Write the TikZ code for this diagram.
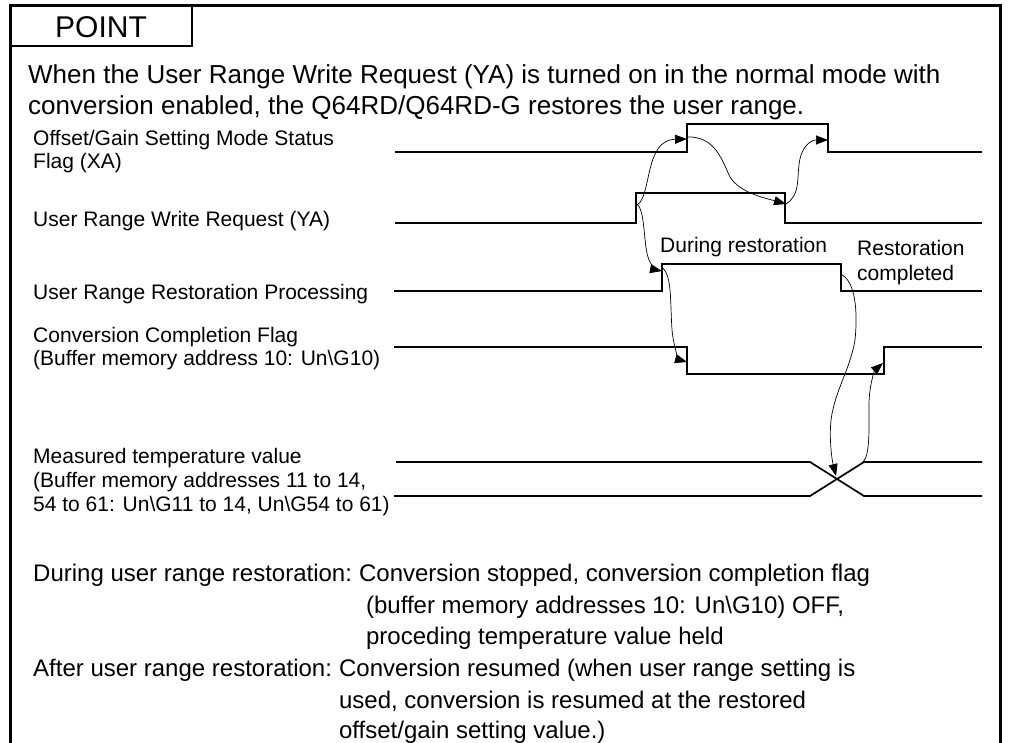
\documentclass[tikz,border=0pt]{standalone}
\usepackage{fontspec}
\setmainfont{Liberation Sans}
\usetikzlibrary{arrows.meta,calc}
\begin{document}
\begin{tikzpicture}[x=1pt,y=-1pt,
  frame/.style={line width=3pt},
  wave/.style={line width=1.7pt, line join=miter},
  cause/.style={line width=0.7pt, -{Triangle[length=12pt,width=9pt]}},
  para/.style={anchor=base west, inner sep=0pt, font=\fontsize{26}{31}\selectfont},
  sig/.style={anchor=base west, inner sep=0pt, font=\fontsize{21}{25}\selectfont},
  note/.style={anchor=base west, inner sep=0pt, font=\fontsize{24}{29}\selectfont}]
\useasboundingbox (0,0) rectangle (1009,743);
\fill[white] (0,0) rectangle (1009,743);

% outer frame (open at the bottom) and title tab
\draw[frame] (10,743) -- (10,6) -- (1000,6) -- (1000,743);
\draw[line width=2pt] (10,46) -- (192,46) -- (192,6);
\node[inner sep=0pt, font=\fontsize{30}{36}\selectfont] (title) at (101,27) {POINT};

% introduction
\node[para] (p1) at (28,84) {When the User Range Write Request (YA) is turned on in the normal mode with};
\node[para] (p2) at (28,115) {conversion enabled, the Q64RD/Q64RD-G restores the user range.};

% signal names
\node[sig] (l1a) at (33,145.5) {Offset/Gain Setting Mode Status};
\node[sig] (l1b) at (33,168.5) {Flag (XA)};
\node[sig] (l2)  at (33,226.5) {User Range Write Request (YA)};
\node[sig] (l3)  at (33,299.5) {User Range Restoration Processing};
\node[sig] (l4a) at (33,342.5) {Conversion Completion Flag};
\node[sig] (l4b) at (33,365.5) {(Buffer memory address 10: Un\textbackslash G10)};
\node[sig] (l5a) at (33,463.5) {Measured temperature value};
\node[sig] (l5b) at (33,487.5) {(Buffer memory addresses 11 to 14,};
\node[sig] (l5c) at (33,511.5) {54 to 61: Un\textbackslash G11 to 14, Un\textbackslash G54 to 61)};

% phase labels
\node[sig] (during) at (660,252.5) {During restoration};
\node[sig] (donea)  at (857,255.5) {Restoration};
\node[sig] (doneb)  at (857,280.5) {completed};

% edge points of the waveforms
\coordinate (xaR) at (687,139);  \coordinate (xaF) at (828,140);
\coordinate (yaR) at (637,205);  \coordinate (yaF) at (786,204);
\coordinate (rpR) at (662,271);  \coordinate (rpF) at (842,275);
\coordinate (cfF) at (687,362);  \coordinate (cfR) at (883,363);
\coordinate (tvX) at (836,476);  \coordinate (tvE) at (863,462);

% waveforms
\draw[wave] (395,152) -- (687,152) -- (687,124) -- (828,124) -- (828,152) -- (982,152);
\draw[wave] (395,223) -- (636,223) -- (636,193) -- (785,193) -- (785,223) -- (982,223);
\draw[wave] (394,291) -- (662,291) -- (662,264) -- (841,264) -- (841,291) -- (982,291);
\draw[wave] (394,347) -- (687,347) -- (687,374) -- (884,374) -- (884,347) -- (982,347);
\draw[wave] (396,462) -- (810,462) -- (864,496) -- (982,496);
\draw[wave] (394,496) -- (810,496) -- (864,462) -- (982,462);

% cause-and-effect arrows
\draw[cause] (yaR) .. controls (652,196) and (644,140) .. (xaR);
\draw[cause] (687,137) .. controls (715,136) and (722,160) .. (730,177)
                       .. controls (740,193) and (765,198) .. (yaF);
\draw[cause] (yaF) .. controls (800,195) and (797,180) .. (799,165)
                   .. controls (801,145) and (812,140) .. (xaF);
\draw[cause] (638,205) .. controls (646,215) and (643,250) .. (650,262)
                       .. controls (653,268) and (657,270) .. (rpR);
\draw[cause] (663,268) .. controls (672,278) and (670,300) .. (672,330)
                       .. controls (674,350) and (680,360) .. (cfF);
\draw[cause] (rpF) .. controls (855,282) and (858,310) .. (855,340)
                   .. controls (850,370) and (835,390) .. (831,420)
                   .. controls (829,440) and (832,460) .. (tvX);
\draw[cause] (tvE) .. controls (870,455) and (869,430) .. (869,405)
                   .. controls (869,385) and (875,370) .. (cfR);

% behaviour during and after restoration
\node[note] (d0) at (33,581.5) {During user range restoration:};
\node[note] (d1) at ($(d0.base east)+(6.7,0)$) {Conversion stopped, conversion completion flag};
\node[note] (d2) at ($(d1.base west)+(7,32)$) {(buffer memory addresses 10: Un\textbackslash G10) OFF,};
\node[note] (d3) at ($(d2.base west)+(0,31)$) {proceding temperature value held};
\node[note] (a0) at (33,676.5) {After user range restoration:};
\node[note] (a1) at ($(a0.base east)+(6.7,0)$) {Conversion resumed (when user range setting is};
\node[note] (a2) at ($(a1.base west)+(0,32)$) {used, conversion is resumed at the restored};
\node[note] (a3) at ($(a2.base west)+(0,29.5)$) {offset/gain setting value.)};
\end{tikzpicture}
\end{document}
